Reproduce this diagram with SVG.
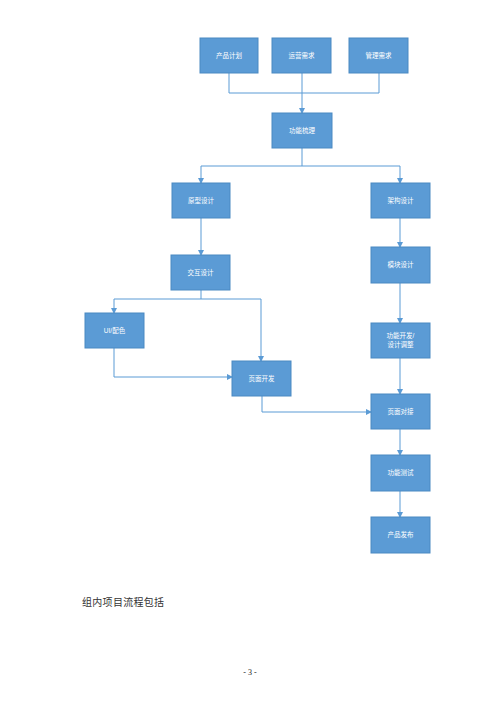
<svg xmlns="http://www.w3.org/2000/svg" width="500" height="707" viewBox="0 0 500 707">
<defs>
<style>
.box{fill:#5b9bd5;stroke:#4a89c2;stroke-width:1}
.lbl{fill:#ffffff;font-family:"Liberation Sans","Noto Sans CJK SC",sans-serif;font-size:6.5px;text-anchor:middle}
.ln{fill:none;stroke:#5b9bd5;stroke-width:1}
.body{fill:#333;font-family:"Liberation Serif","Noto Sans CJK SC",serif;font-size:10px;letter-spacing:0.3px}
</style>
<marker id="ah" markerWidth="6" markerHeight="6" refX="5" refY="3" orient="auto" markerUnits="userSpaceOnUse">
<path d="M0,0 L6,3 L0,6 Z" fill="#5b9bd5"/>
</marker>
</defs>
<rect width="500" height="707" fill="#ffffff"/>
<g id="connectors">
<path class="ln" d="M229,73 V93 H379 V73"/>
<path class="ln" d="M302,73 V113" marker-end="url(#ah)"/>
<path class="ln" d="M302,148 V166 H201 V183" marker-end="url(#ah)"/>
<path class="ln" d="M302,166 H400 V183" marker-end="url(#ah)"/>
<path class="ln" d="M201,218 V255" marker-end="url(#ah)"/>
<path class="ln" d="M201,290 V299 H114 V313" marker-end="url(#ah)"/>
<path class="ln" d="M201,299 H261 V361" marker-end="url(#ah)"/>
<path class="ln" d="M114,348 V377 H232" marker-end="url(#ah)"/>
<path class="ln" d="M262,396 V412 H371" marker-end="url(#ah)"/>
<path class="ln" d="M400,218 V247" marker-end="url(#ah)"/>
<path class="ln" d="M400,283 V323" marker-end="url(#ah)"/>
<path class="ln" d="M400,358 V394" marker-end="url(#ah)"/>
<path class="ln" d="M400,429 V455" marker-end="url(#ah)"/>
<path class="ln" d="M400,491 V517" marker-end="url(#ah)"/>
</g>
<g id="n1"><rect class="box" x="200" y="38" width="58" height="35"/><text class="lbl" x="229" y="58">产品计划</text></g>
<g id="n2"><rect class="box" x="272" y="38" width="59" height="35"/><text class="lbl" x="301.5" y="58">运营需求</text></g>
<g id="n3"><rect class="box" x="349" y="38" width="59" height="35"/><text class="lbl" x="378.5" y="58">管理需求</text></g>
<g id="n4"><rect class="box" x="272" y="113" width="60" height="35"/><text class="lbl" x="302" y="133">功能梳理</text></g>
<g id="n5"><rect class="box" x="172" y="183" width="58" height="35"/><text class="lbl" x="201" y="203">原型设计</text></g>
<g id="n6"><rect class="box" x="371" y="183" width="59" height="35"/><text class="lbl" x="400.5" y="203">架构设计</text></g>
<g id="n7"><rect class="box" x="171" y="255" width="59" height="35"/><text class="lbl" x="200.5" y="275">交互设计</text></g>
<g id="n8"><rect class="box" x="371" y="247" width="59" height="36"/><text class="lbl" x="400.5" y="267">模块设计</text></g>
<g id="n9"><rect class="box" x="85" y="313" width="59" height="35"/><text class="lbl" x="114.5" y="333">UI/配色</text></g>
<g id="n10"><rect class="box" x="371" y="323" width="59" height="35"/><text class="lbl" x="400.5" y="338">功能开发/</text><text class="lbl" x="400.5" y="347">设计调整</text></g>
<g id="n11"><rect class="box" x="232" y="361" width="59" height="35"/><text class="lbl" x="261.5" y="381">页面开发</text></g>
<g id="n12"><rect class="box" x="371" y="394" width="59" height="35"/><text class="lbl" x="400.5" y="414">页面对接</text></g>
<g id="n13"><rect class="box" x="371" y="455" width="59" height="36"/><text class="lbl" x="400.5" y="475">功能测试</text></g>
<g id="n14"><rect class="box" x="371" y="517" width="59" height="36"/><text class="lbl" x="400.5" y="537">产品发布</text></g>
<text class="body" x="82" y="606">组内项目流程包括</text>
<text x="250" y="675" font-family="Liberation Serif,serif" font-size="8" text-anchor="middle" fill="#222">- 3 -</text>
</svg>
